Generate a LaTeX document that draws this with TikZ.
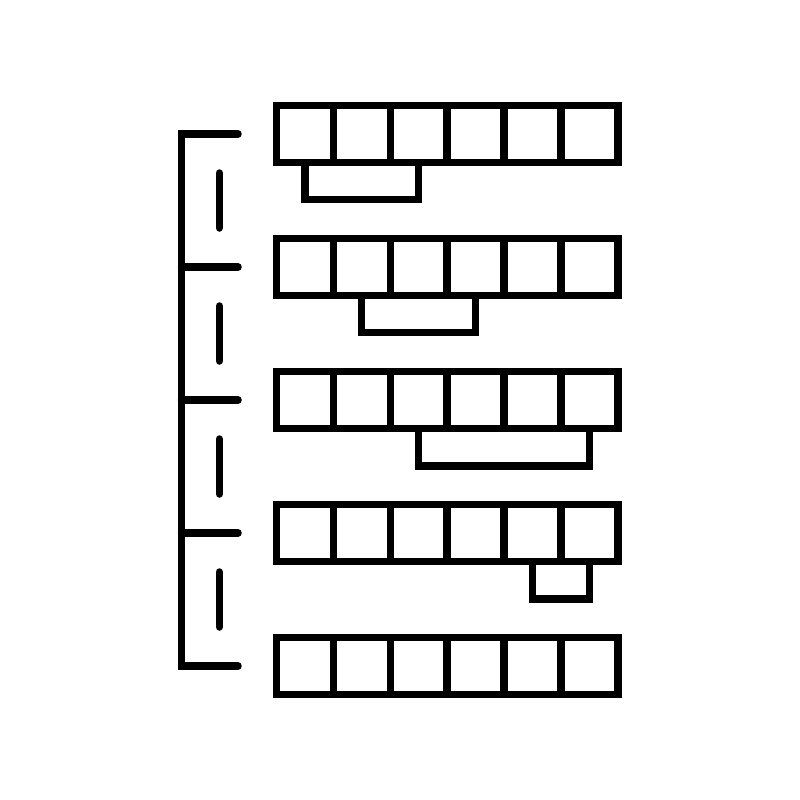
\documentclass[tikz,border=0pt]{standalone}
\tikzset{
	cellrow/.style={black, line width=7.5pt, line join=miter},
	subbox/.style={black, line width=7.5pt, line join=miter},
	bracket/.style={black, line width=7.5pt, line cap=round, line join=miter}
}
\begin{document}
\begin{tikzpicture}[x=1pt,y=-1pt]
		\useasboundingbox (0,0) rectangle (800,800);

		% rows of cells
		\foreach \y in {105.5,238.5,371.5,504.5,637.5}{
			\draw[cellrow] (276.4,\y) rectangle (618,\y+57);
			\foreach \i in {1,...,5}
				\draw[cellrow] (276.4+\i*56.93,\y) -- ++(0,57);
		}

		% boxes under the rows
		\draw[subbox] (304.8,162.5) rectangle (418.6,199.5);
		\draw[subbox] (361.7,295.5) rectangle (475.5,332.5);
		\draw[subbox] (418.6,428.5) rectangle (589.5,466);
		\draw[subbox] (532.6,561.5) rectangle (589.5,599);

		% bracket on the left
		\draw[bracket] (238,134) -- (181.5,134) -- (181.5,666) -- (238,666);
		\draw[bracket] (181.5,267) -- (238,267);
		\draw[bracket] (181.5,400) -- (238,400);
		\draw[bracket] (181.5,533) -- (238,533);

		% dashes
		\draw[bracket] (219.3,173) -- (219.3,228);
		\draw[bracket] (219.3,306) -- (219.3,361);
		\draw[bracket] (219.3,439) -- (219.3,494);
		\draw[bracket] (219.3,572) -- (219.3,627);
	\end{tikzpicture}
\end{document}
